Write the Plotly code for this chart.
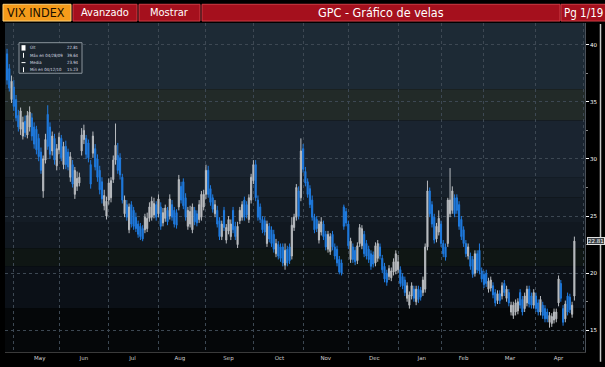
import plotly.graph_objects as go
import pandas as pd

# ---------------- data (VIX daily OHLC, 28 Apr 2009 - 27 Apr 2010) ----------------
open_ = [
    39.2, 37.9, 35.2, 36.3, 35.2, 33.8, 32.6, 32.0, 33.3, 32.1,
    32.8, 33.6, 32.8, 32.6, 31.8, 30.6, 27.2, 29.9, 33.9, 32.8,
    30.7, 31.8, 29.4, 30.8, 31.8, 29.5, 31.1, 30.6, 28.4, 29.5,
    26.9, 27.6, 27.9, 30.7, 31.7, 31.8, 31.4, 29.5, 30.5, 30.9,
    30.0, 29.0, 28.0, 25.9, 25.0, 26.4, 26.6, 28.2, 29.9, 30.3,
    30.1, 28.4, 25.2, 26.0, 23.8, 26.0, 25.5, 24.9, 24.3, 24.1,
    23.9, 23.8, 23.9, 24.8, 24.9, 25.1, 26.0, 25.2, 25.8, 24.4,
    24.8, 25.5, 25.0, 26.0, 25.5, 25.3, 25.8, 27.6, 28.0, 26.6,
    24.1, 24.3, 23.8, 25.5, 25.2, 24.7, 24.9, 25.8, 26.9, 29.0,
    27.4, 26.6, 25.2, 25.5, 24.6, 23.2, 25.5, 22.9, 23.7, 23.2,
    25.5, 24.1, 22.5, 24.6, 24.9, 26.4, 26.0, 24.7, 26.4, 28.1,
    29.5, 26.4, 25.8, 24.7, 24.6, 22.6, 24.1, 23.8, 23.4, 21.7,
    22.5, 22.3, 22.3, 20.7, 22.1, 22.3, 21.5, 24.0, 24.9, 27.2,
    26.6, 30.9, 28.9, 28.0, 27.4, 26.4, 24.9, 24.7, 22.9, 23.6,
    24.3, 23.4, 22.1, 21.9, 23.4, 22.3, 22.1, 21.2, 20.9, 25.8,
    25.4, 24.3, 21.2, 22.3, 22.0, 21.1, 22.6, 22.4, 23.4, 22.6,
    22.1, 21.7, 21.6, 20.9, 21.3, 22.3, 21.3, 20.6, 20.0, 19.7,
    19.6, 20.1, 20.2, 20.3, 20.3, 19.7, 19.4, 17.8, 17.2, 18.0,
    18.6, 17.5, 18.6, 18.5, 18.3, 18.6, 22.3, 27.2, 26.0, 24.9,
    23.0, 23.6, 24.3, 22.6, 22.3, 22.6, 25.2, 25.5, 26.6, 26.6,
    26.0, 24.7, 23.8, 22.6, 21.5, 21.5, 21.2, 20.0, 21.7, 22.0,
    20.2, 19.9, 20.0, 18.6, 18.7, 18.9, 18.3, 17.6, 18.2, 18.0,
    19.1, 17.8, 18.3, 16.6, 16.3, 16.6, 16.7, 18.3, 17.7, 16.9,
    17.4, 18.6, 18.0, 17.2, 18.0, 17.4, 16.6, 17.2, 16.9, 16.6,
    15.7, 15.6, 15.9, 16.0, 17.4, 19.1, 16.9, 16.0, 18.0, 17.9,
    16.4, 18.0,
]
high = [
    39.64, 38.3, 37.3, 36.9, 35.6, 34.3, 34.5, 33.7, 33.8, 34.2,
    34.6, 34.0, 33.2, 32.9, 32.2, 31.0, 30.3, 32.2, 34.7, 33.2,
    32.4, 32.2, 31.3, 32.3, 32.1, 31.5, 31.6, 30.9, 30.6, 29.9,
    29.3, 28.9, 28.8, 32.7, 33.0, 32.1, 31.7, 29.9, 32.4, 31.3,
    30.4, 29.4, 28.4, 27.3, 26.7, 28.3, 28.4, 30.3, 33.1, 31.4,
    30.5, 28.7, 26.8, 26.4, 26.1, 26.3, 25.8, 25.3, 24.6, 24.4,
    24.2, 25.2, 25.3, 26.2, 26.7, 26.6, 26.3, 26.9, 26.2, 25.7,
    26.0, 25.8, 26.9, 26.4, 25.8, 25.6, 28.6, 28.0, 28.3, 27.0,
    25.8, 25.9, 26.1, 25.8, 25.5, 26.4, 27.2, 27.3, 29.5, 29.4,
    27.7, 26.9, 26.4, 25.9, 24.9, 24.6, 25.8, 24.3, 25.0, 24.7,
    25.8, 24.5, 24.5, 25.8, 26.3, 26.7, 26.3, 26.9, 28.7, 29.9,
    29.9, 26.8, 26.1, 25.0, 24.9, 24.6, 24.4, 24.1, 23.8, 23.0,
    22.8, 22.6, 22.6, 22.6, 22.4, 22.6, 24.9, 25.2, 27.8, 27.6,
    31.8, 31.3, 29.3, 28.3, 27.7, 26.8, 25.2, 25.0, 24.6, 24.9,
    24.6, 23.7, 23.7, 23.5, 23.7, 22.6, 22.4, 21.5, 21.2, 26.0,
    25.7, 24.6, 23.1, 22.6, 22.3, 22.7, 24.3, 24.2, 23.7, 22.9,
    22.4, 22.0, 21.9, 22.7, 22.9, 22.6, 21.6, 20.9, 20.3, 20.7,
    20.5, 21.3, 22.0, 21.6, 20.6, 20.0, 19.7, 19.2, 18.4, 19.2,
    18.9, 18.9, 18.9, 18.8, 19.7, 22.6, 28.1, 27.5, 26.3, 25.2,
    24.4, 25.5, 24.6, 22.9, 22.6, 26.6, 29.2, 27.6, 26.9, 26.9,
    26.3, 25.0, 24.1, 22.9, 22.6, 21.8, 21.5, 22.0, 22.0, 22.6,
    20.5, 20.2, 20.3, 19.6, 19.7, 19.2, 18.6, 18.5, 18.5, 19.2,
    19.4, 18.9, 18.6, 17.5, 17.5, 17.7, 17.8, 18.6, 18.0, 18.3,
    18.9, 18.9, 18.3, 18.6, 18.3, 17.7, 18.0, 17.5, 17.2, 16.9,
    16.6, 16.5, 16.9, 16.9, 19.8, 19.4, 17.2, 17.6, 18.3, 18.2,
    17.5, 23.2,
]
low = [
    36.5, 35.9, 34.9, 34.2, 33.3, 32.4, 32.1, 31.7, 31.9, 31.8,
    32.4, 31.6, 30.9, 30.4, 29.8, 28.7, 26.6, 29.6, 30.8, 30.0,
    30.3, 29.5, 29.0, 30.4, 29.8, 29.1, 29.1, 29.0, 28.0, 27.5,
    26.5, 27.2, 27.6, 30.3, 31.3, 30.0, 29.7, 27.4, 30.1, 29.0,
    28.0, 26.9, 26.1, 25.5, 24.7, 26.0, 26.2, 27.9, 29.5, 28.7,
    28.2, 26.1, 24.9, 24.6, 23.5, 24.0, 23.8, 23.6, 23.1, 22.9,
    22.8, 23.5, 23.6, 24.5, 24.6, 24.8, 24.6, 24.9, 23.8, 24.1,
    24.5, 24.2, 24.7, 24.6, 24.0, 23.9, 25.5, 26.1, 25.6, 24.6,
    23.8, 24.0, 23.5, 24.2, 24.1, 24.4, 24.6, 25.5, 26.5, 26.6,
    25.9, 25.3, 24.9, 24.0, 22.9, 22.9, 23.7, 22.6, 23.4, 22.9,
    23.5, 22.9, 22.2, 24.3, 24.6, 24.6, 24.8, 24.4, 26.1, 27.8,
    26.3, 24.6, 24.4, 23.5, 23.3, 22.3, 22.7, 22.3, 21.8, 21.4,
    21.2, 21.0, 20.6, 20.3, 20.6, 20.8, 21.2, 23.7, 24.6, 24.7,
    26.3, 28.8, 27.6, 26.6, 25.7, 24.6, 23.5, 23.6, 22.6, 23.3,
    22.9, 22.0, 21.8, 21.6, 22.0, 21.2, 20.6, 19.9, 19.8, 23.8,
    24.1, 22.1, 20.9, 20.9, 20.7, 20.8, 22.3, 22.1, 21.4, 21.2,
    20.9, 20.3, 20.5, 20.6, 21.0, 21.2, 20.0, 19.2, 18.9, 19.4,
    19.3, 19.8, 19.9, 20.0, 18.8, 18.6, 18.0, 17.5, 16.9, 17.7,
    17.5, 17.2, 17.4, 17.6, 18.0, 18.3, 22.0, 24.9, 24.0, 22.6,
    22.7, 23.3, 22.3, 21.4, 21.1, 22.3, 24.9, 25.2, 24.9, 25.2,
    23.8, 22.9, 22.3, 21.4, 21.2, 20.3, 19.6, 19.7, 20.0, 19.9,
    19.2, 18.7, 18.8, 18.3, 18.4, 17.8, 17.1, 17.3, 17.3, 17.7,
    18.0, 17.5, 17.1, 16.3, 16.0, 16.3, 16.4, 16.9, 16.3, 16.6,
    17.1, 17.0, 16.9, 16.9, 16.6, 16.3, 16.3, 16.0, 15.7, 15.7,
    15.23, 15.3, 15.6, 15.7, 17.1, 17.5, 15.4, 15.7, 16.3, 16.5,
    16.1, 17.6,
]
close = [
    36.9, 36.2, 36.8, 34.6, 33.6, 32.8, 34.2, 33.2, 32.3, 33.8,
    34.1, 32.0, 31.3, 30.8, 30.2, 29.0, 30.0, 31.7, 31.1, 30.4,
    32.0, 29.9, 30.9, 31.9, 30.1, 31.1, 29.5, 29.3, 30.2, 27.8,
    29.0, 28.3, 28.4, 32.1, 32.5, 30.4, 30.1, 27.8, 32.0, 29.3,
    28.4, 27.3, 26.5, 26.8, 26.3, 27.9, 28.1, 29.9, 31.2, 29.0,
    28.6, 26.4, 26.4, 24.9, 25.8, 24.3, 24.1, 23.9, 23.4, 23.2,
    23.0, 24.9, 24.8, 25.8, 26.3, 26.1, 24.9, 26.5, 24.1, 25.3,
    25.7, 24.5, 26.5, 24.9, 24.3, 24.2, 28.2, 26.4, 25.9, 24.9,
    25.5, 25.4, 25.8, 24.5, 24.4, 26.0, 26.9, 26.9, 29.0, 26.9,
    26.2, 25.6, 26.0, 24.3, 23.2, 24.3, 24.0, 24.0, 24.7, 24.3,
    23.8, 23.2, 24.1, 25.5, 26.0, 24.9, 25.1, 26.6, 28.4, 29.5,
    26.6, 24.9, 24.7, 23.8, 23.6, 24.3, 23.0, 22.6, 22.1, 22.6,
    21.5, 21.3, 20.9, 22.0, 20.9, 21.1, 24.2, 24.9, 27.5, 25.0,
    30.7, 29.1, 27.9, 26.9, 26.0, 24.9, 23.8, 23.9, 24.3, 24.5,
    23.2, 22.3, 23.4, 23.2, 22.3, 21.5, 20.9, 20.1, 20.0, 24.1,
    24.4, 22.4, 22.8, 21.2, 21.0, 22.4, 24.0, 23.9, 21.7, 21.5,
    21.2, 20.6, 20.8, 22.4, 22.6, 21.5, 20.3, 19.5, 19.2, 20.4,
    20.2, 21.0, 21.7, 21.0, 19.1, 18.9, 18.3, 18.9, 18.1, 18.9,
    17.8, 18.6, 17.7, 17.9, 19.4, 22.3, 27.2, 25.2, 24.3, 22.9,
    24.1, 24.8, 22.6, 21.7, 21.4, 26.4, 26.4, 27.2, 25.2, 25.5,
    24.1, 23.2, 22.6, 21.7, 22.3, 20.6, 19.9, 21.7, 20.3, 20.2,
    19.5, 19.0, 19.1, 19.3, 19.4, 18.1, 17.4, 18.2, 17.6, 18.9,
    18.3, 18.6, 17.4, 17.2, 17.2, 17.4, 17.5, 17.2, 16.6, 18.0,
    18.6, 17.3, 17.2, 18.3, 16.9, 16.6, 17.7, 16.3, 16.0, 16.0,
    16.3, 16.2, 16.6, 16.6, 19.5, 17.8, 15.7, 17.3, 16.6, 16.8,
    17.2, 22.81,
]

holidays = ["2009-05-25", "2009-07-03", "2009-09-07", "2009-11-26", "2009-12-25",
            "2010-01-01", "2010-01-18", "2010-02-15", "2010-04-02"]
dates = [d.strftime("%Y-%m-%d") for d in pd.bdate_range("2009-04-28", "2010-04-27")
         if d.strftime("%Y-%m-%d") not in holidays]
n = min(len(dates), len(close))
dates = dates[:n]

y_ticks = [15, 20, 25, 30, 35, 40]
y_minor = [17.5, 22.5, 27.5, 32.5, 37.5]

title_text = "GPC - Gráfico de velas"
legend_rows = [("Últ", "22.81"), ("Máx en 04/28/09", "39.64"),
               ("Media", "23.94"), ("Mín en 04/12/10", "15.23")]
last_label = "22.81"

# ---------------- figure ----------------
W, H = 605, 367
ML, MR, MT, MB = 5, 20, 23, 10
PW, PH = W - ML - MR, H - MT - MB


def px(x):
    return (x - ML) / PW


def py(y):
    return (H - MB - y) / PH


fig = go.Figure()
fig.add_trace(go.Candlestick(
    x=dates, open=open_[:n], high=high[:n], low=low[:n], close=close[:n],
    increasing=dict(line=dict(color="#b9bcc0", width=1), fillcolor="#b9bcc0"),
    decreasing=dict(line=dict(color="#1f7be0", width=1), fillcolor="#1f7be0"),
    whiskerwidth=0, showlegend=False, hoverinfo="skip",
))

shapes = []
# background bands (Bloomberg style)
bands = [
    (36.1, 45, "#1d2a35"), (33.36, 36.1, "#222a28"), (28.36, 33.36, "#1a2430"),
    (26.64, 28.36, "#17202a"), (24.48, 26.64, "#141c25"), (22.16, 24.48, "#111820"),
    (20.6, 22.16, "#0f1614"), (16.9, 20.6, "#0b1017"), (10, 16.9, "#050709"),
]
for lo, hi, col in bands:
    shapes.append(dict(type="rect", xref="paper", yref="y", x0=0, x1=1, y0=lo, y1=hi,
                       fillcolor=col, line=dict(width=0), layer="below"))

# header boxes
hdr = [
    (3, 71, "#f59b1a", "#ffd27a"),
    (73, 137, "#a5101d", "#cf3c46"),
    (139, 200, "#a5101d", "#cf3c46"),
    (202, 560, "#a5101d", "#cf3c46"),
    (561, 612, "#a5101d", "#cf3c46"),
]
for x0, x1, fc, lc in hdr:
    shapes.append(dict(type="rect", xref="paper", yref="paper",
                       x0=px(x0), x1=px(x1), y0=py(21), y1=py(4),
                       fillcolor=fc, line=dict(color=lc, width=1), layer="above"))

# legend box
shapes.append(dict(type="rect", xref="paper", yref="paper",
                   x0=px(19), x1=px(82), y0=py(74), y1=py(43),
                   fillcolor="#1b252e", line=dict(color="#8b949c", width=1), layer="above"))
shapes.append(dict(type="rect", xref="paper", yref="paper",
                   x0=px(21.5), x1=px(25.5), y0=py(51), y1=py(45.5),
                   fillcolor="#ffffff", line=dict(width=0), layer="above"))
for yy in (55.8, 70.4):
    shapes.append(dict(type="line", xref="paper", yref="paper",
                       x0=px(23.5), x1=px(23.5), y0=py(yy + 2.5), y1=py(yy - 2.5),
                       line=dict(color="#ffffff", width=1), layer="above"))
shapes.append(dict(type="line", xref="paper", yref="paper",
                   x0=px(21.5), x1=px(25.5), y0=py(63.2), y1=py(63.2),
                   line=dict(color="#ffffff", width=1), layer="above"))
# right window edge
shapes.append(dict(type="line", xref="paper", yref="paper",
                   x0=px(600.5), x1=px(600.5), y0=py(367), y1=py(24),
                   line=dict(color="#c8c8c8", width=1.5), layer="above"))

annotations = []
hfont = "DejaVu Sans Condensed, Liberation Sans Narrow, DejaVu Sans, sans-serif"


def hdr_text(text, x, size, color, xanchor="center"):
    return dict(text=text, xref="paper", yref="paper", x=px(x), y=py(12.8),
                xanchor=xanchor, yanchor="middle", showarrow=False,
                font=dict(family=hfont, size=size, color=color))


annotations.append(hdr_text("VIX INDEX", 36, 12.5, "#1a1000"))
annotations.append(hdr_text("Avanzado", 105, 11, "#ffffff"))
annotations.append(hdr_text("Mostrar", 169.5, 11, "#ffffff"))
annotations.append(hdr_text(title_text, 381, 12.5, "#ffffff"))
annotations.append(hdr_text("Pg 1/19", 562, 11.5, "#ffffff", xanchor="left"))

lfont = "DejaVu Sans Condensed, Liberation Sans Narrow, sans-serif"
rows_y = [48.3, 55.8, 63.2, 70.4]
for (lab, val), yy in zip(legend_rows, rows_y):
    annotations.append(dict(text=lab, xref="paper", yref="paper", x=px(27.5), y=py(yy),
                            xanchor="left", yanchor="middle", showarrow=False,
                            font=dict(family=lfont, size=4.3, color="#d8dde2")))
    annotations.append(dict(text=val, xref="paper", yref="paper", x=px(81), y=py(yy),
                            xanchor="right", yanchor="middle", showarrow=False,
                            font=dict(family=lfont, size=4.3, color="#d8dde2")))

annotations.append(dict(text=last_label, xref="paper", yref="y", x=1.003, y=close[n - 1],
                        xanchor="left", yanchor="middle", showarrow=False, borderpad=0,
                        bgcolor="#3a3f44", bordercolor="#e0e0e0", borderwidth=1,
                        font=dict(family="DejaVu Sans", size=5.5, color="#ffffff")))

fig.update_layout(
    width=W, height=H, autosize=False,
    margin=dict(l=ML, r=MR, t=MT, b=MB),
    paper_bgcolor="#000000", plot_bgcolor="#000000",
    shapes=shapes, annotations=annotations, showlegend=False,
    xaxis=dict(
        type="date",
        range=["2009-04-27 02:24", "2010-05-03 16:48"],
        rangebreaks=[dict(bounds=["sat", "mon"]), dict(values=holidays)],
        rangeslider=dict(visible=False),
        tick0="2009-05-01", dtick="M1", tickformat="%b", ticklabelmode="period",
        showgrid=True, gridcolor="#3d4853", griddash="dot", gridwidth=1,
        ticks="", tickfont=dict(family="DejaVu Sans", size=5.5, color="#d0d0d0"),
        showline=True, linecolor="#3a3a3a", zeroline=False,
    ),
    yaxis=dict(
        side="right", range=[13.1, 41.9],
        tickmode="array", tickvals=y_ticks, ticktext=[str(v) for v in y_ticks],
        showgrid=True, gridcolor="#3d4853", griddash="dot", gridwidth=1,
        ticks="outside", ticklen=3, tickcolor="#ffffff",
        tickfont=dict(family="DejaVu Sans", size=5.5, color="#ffffff"),
        minor=dict(tickmode="array", tickvals=y_minor, ticks="outside", ticklen=2,
                   tickcolor="#888888", showgrid=False),
        showline=True, linecolor="#4a5058", zeroline=False,
    ),
)

fig.write_html(
    "out.html",
    config={"displayModeBar": False},
    post_script="document.body.style.margin='0px';document.body.style.overflow='hidden';",
)
